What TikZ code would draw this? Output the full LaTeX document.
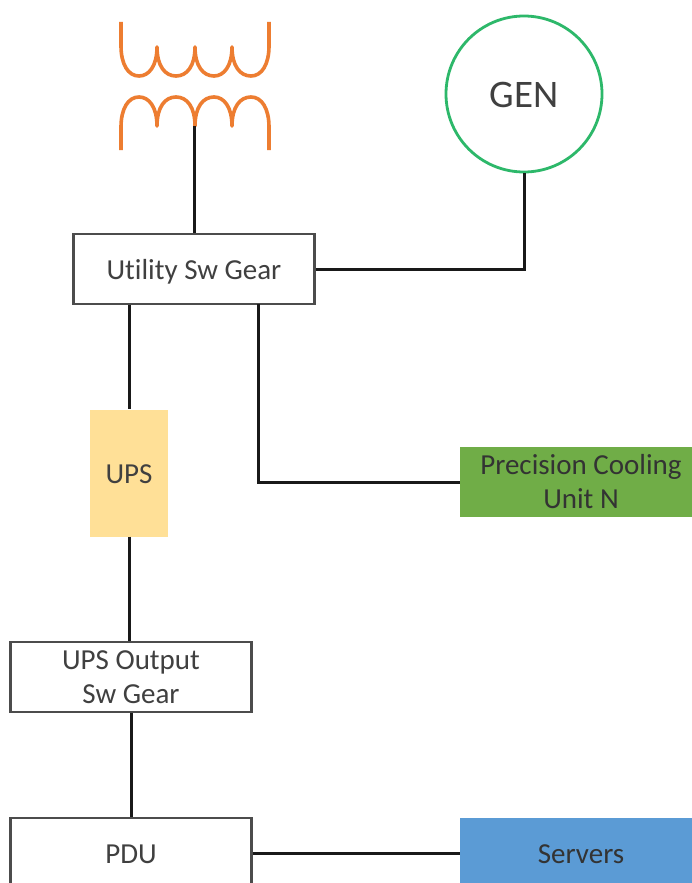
\documentclass[tikz,border=0pt]{standalone}
\usepackage{fontspec}
\setmainfont[Ligatures=NoCommon,Contextuals=NoAlternate]{Carlito}
\definecolor{orng}{HTML}{ED7D31}
\definecolor{grn}{HTML}{2DB86A}
\definecolor{yel}{HTML}{FFE097}
\definecolor{lgrn}{HTML}{70AD47}
\definecolor{blu}{HTML}{5B9BD5}
\definecolor{txt}{HTML}{404040}
\tikzset{
  lbl/.style={font=\fontsize{29}{34}\selectfont,text=txt,align=center,inner sep=0pt},
  oneline/.style={text height=#1,text depth=0pt},
  whitebox/.style={lbl,draw=black!70,line width=2.6pt,fill=white,minimum width=241pt,minimum height=70pt},
  fillbox/.style={lbl,minimum width=242pt,minimum height=70pt},
  wire/.style={draw=black!90,line width=3pt},
  coil/.style={draw=orng,line width=3.6pt,line join=round}
}
\begin{document}
\begin{tikzpicture}[x=1pt,y=-1pt]
\useasboundingbox (0,0) rectangle (692,883);
\clip (0,0) rectangle (692,883);
\fill[white] (0,0) rectangle (692,883);
% transformer
\draw[coil] (121,22) -- (121,46) .. controls (121,64) and (128,76) .. (139,76) .. controls (149,76) and (157,66) .. (157,47)
  .. controls (157,66) and (165,76) .. (176,76) .. controls (187,76) and (195,66) .. (195,47)
  .. controls (195,66) and (203,76) .. (214,76) .. controls (224,76) and (232,66) .. (232,47)
  .. controls (232,66) and (240,76) .. (251,76) .. controls (262,76) and (269,64) .. (269,46) -- (269,22);
\draw[coil] (121,150) -- (121,127) .. controls (121,109) and (128,97) .. (139,97) .. controls (149,97) and (157,107) .. (157,126)
  .. controls (157,107) and (165,97) .. (176,97) .. controls (187,97) and (195,107) .. (195,126)
  .. controls (195,107) and (203,97) .. (214,97) .. controls (224,97) and (232,107) .. (232,126)
  .. controls (232,107) and (240,97) .. (251,97) .. controls (262,97) and (269,109) .. (269,127) -- (269,150);
\coordinate (tap) at (194,126);
% nodes
\node[circle,draw=grn,line width=2.8pt,fill=white,minimum size=156pt,lbl,font=\fontsize{39}{43}\selectfont,align=none,oneline=27pt] (gen) at (524,94) {GEN};
\node[whitebox,align=none,oneline=20pt] (usg) at (194,269) {Utility Sw Gear};
\node[fillbox,fill=yel,minimum width=78pt,minimum height=127pt,align=none,oneline=20pt] (ups) at (129,473) {UPS};
\node[fillbox,fill=lgrn,text=black!80] (pcu) at (581,482) {Precision Cooling\\Unit N};
\node[whitebox] (uosg) at (131,677) {UPS Output\\Sw Gear};
\node[whitebox,align=none,oneline=20pt] (pdu) at (131,853) {PDU};
\node[fillbox,fill=blu,text=black!80,align=none,oneline=20pt] (srv) at (581,853) {Servers};
% connectors
\draw[wire] (tap) -- (tap |- usg.north);
\draw[wire] (usg.east) -- (usg.east -| gen.south) -- (gen.south);
\draw[wire] (usg.south -| ups.north) -- (ups.north);
\coordinate (usgdrop) at (258,304);
\draw[wire] (usgdrop) -- (usgdrop |- pcu.west) -- (pcu.west);
\draw[wire] (ups.south) -- (ups.south |- uosg.north);
\draw[wire] (uosg.south) -- (pdu.north);
\draw[wire] (pdu.east) -- (srv.west);
\end{tikzpicture}
\end{document}
